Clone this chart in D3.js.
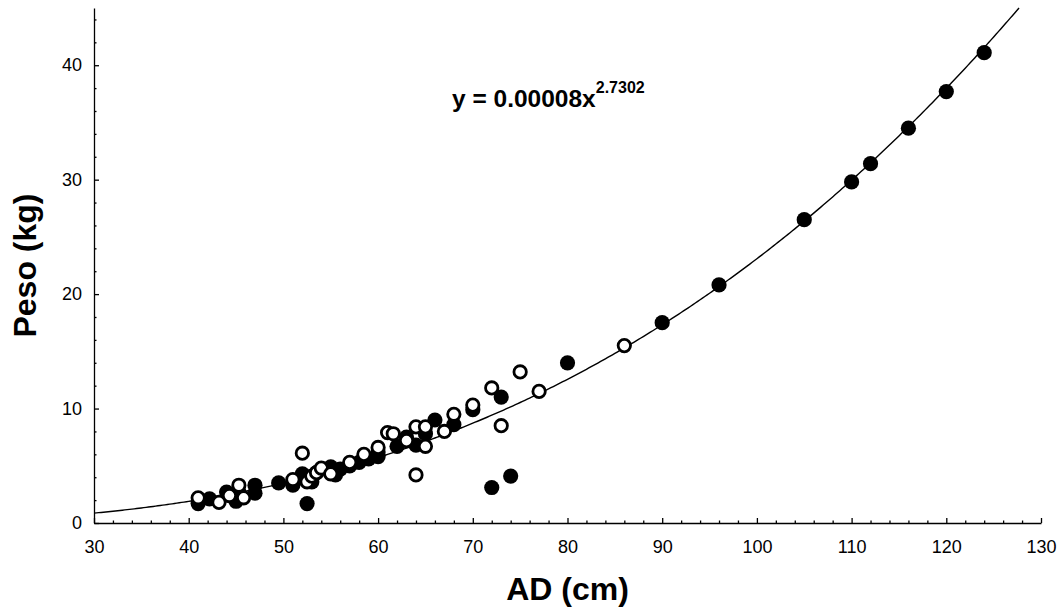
<!DOCTYPE html>
<html>
<head>
<meta charset="utf-8">
<script src="https://cdn.jsdelivr.net/npm/d3@7"></script>
<style>
  body { margin: 0; background: #fff; }
  svg { display: block; }
  .axis text { font-family: "Liberation Sans", Arial, sans-serif; font-size: 18px; fill: #000; }
  .axis path, .axis line { stroke: #000; stroke-width: 1.3; }
</style>
</head>
<body>
<div id="chart"></div>
<script>
// filled circles [AD, Peso]
var filledPts = [
  [41, 1.7], [42.2, 2.1], [44, 2.7], [45, 1.9], [45.3, 2.7], [47, 3.3], [47, 2.6],
  [49.5, 3.5], [51, 3.3], [52, 4.3], [52.5, 1.7], [53, 3.6], [53.5, 4.4], [55, 4.9],
  [55.5, 4.2], [56, 4.7], [57, 5.0], [58, 5.3], [59, 5.6], [60, 5.8], [60, 6.2],
  [62, 6.7], [63, 7.5], [64, 6.8], [65, 7.8], [66, 9.0], [68, 8.6], [70, 9.9],
  [72, 3.1], [73, 11.0], [74, 4.1], [80, 14.0], [90, 17.5], [96, 20.8], [105, 26.5],
  [110, 29.8], [112, 31.4], [116, 34.5], [120, 37.7], [124, 41.1]
];
// open circles [AD, Peso]
var openPts = [
  [41, 2.2], [43.2, 1.8], [44.3, 2.4], [45.3, 3.3], [45.8, 2.2], [51, 3.8], [52, 6.1],
  [52.5, 3.6], [53, 4.1], [53.5, 4.4], [54, 4.8], [55, 4.3], [57, 5.3], [58.5, 6.0],
  [60, 6.6], [61, 7.9], [61.6, 7.8], [63, 7.2], [64, 8.4], [64, 4.2], [65, 8.4],
  [65, 6.7], [67, 8.0], [68, 9.5], [70, 10.3], [72, 11.8], [73, 8.5], [75, 13.2],
  [77, 11.5], [86, 15.5]
];
var coefA = 0.00008, coefB = 2.7302;
var xTicks = [30, 40, 50, 60, 70, 80, 90, 100, 110, 120, 130];
var yTicks = [0, 10, 20, 30, 40];

var W = 1063, H = 611;
var margin = {top: 8, right: 22, bottom: 88, left: 94};
var width = W - margin.left - margin.right,
    height = H - margin.top - margin.bottom;

var svg = d3.select('#chart').append('svg')
    .attr('width', W).attr('height', H);
var g = svg.append('g').attr('transform', 'translate(' + margin.left + ',' + margin.top + ')');

var x = d3.scaleLinear().domain([30, 130]).range([0, width]);
var y = d3.scaleLinear().domain([0, 45]).range([height, 0]);

var xMinor = d3.range(30, 131, 2).filter(function(v) { return v % 10 !== 0; });
var yMinor = d3.range(0, 45, 2).filter(function(v) { return v % 10 !== 0; });

g.append('g').attr('class', 'axis')
    .attr('transform', 'translate(0,' + height + ')')
    .call(d3.axisBottom(x).tickValues(xTicks).tickSize(-5).tickSizeOuter(0).tickPadding(17));
g.append('g').attr('class', 'axis')
    .attr('transform', 'translate(0,' + height + ')')
    .call(d3.axisBottom(x).tickValues(xMinor).tickSize(-2.5).tickSizeOuter(0).tickFormat(''))
    .select('.domain').remove();

g.append('g').attr('class', 'axis')
    .call(d3.axisLeft(y).tickValues(yTicks).tickSize(-5).tickSizeOuter(0).tickPadding(12));
g.append('g').attr('class', 'axis')
    .call(d3.axisLeft(y).tickValues(yMinor).tickSize(-2.5).tickSizeOuter(0).tickFormat(''))
    .select('.domain').remove();

// fitted curve
var xMax = Math.pow(45 / coefA, 1 / coefB);
var curvePts = d3.range(30, xMax, 0.25).concat([xMax]).map(function(v) { return [v, coefA * Math.pow(v, coefB)]; });
g.append('path')
    .datum(curvePts)
    .attr('fill', 'none')
    .attr('stroke', '#000')
    .attr('stroke-width', 1.4)
    .attr('d', d3.line().x(function(d) { return x(d[0]); }).y(function(d) { return y(d[1]); }));

g.selectAll('.filled').data(filledPts).enter().append('circle')
    .attr('class', 'filled')
    .attr('cx', function(d) { return x(d[0]); })
    .attr('cy', function(d) { return y(d[1]); })
    .attr('r', 7.6)
    .attr('fill', '#000');

g.selectAll('.open').data(openPts).enter().append('circle')
    .attr('class', 'open')
    .attr('cx', function(d) { return x(d[0]); })
    .attr('cy', function(d) { return y(d[1]); })
    .attr('r', 6.2)
    .attr('fill', '#fff')
    .attr('stroke', '#000')
    .attr('stroke-width', 2.8);

// equation
var eq = svg.append('text')
    .attr('x', 452).attr('y', 107)
    .attr('font-family', '"Liberation Sans", Arial, sans-serif')
    .attr('font-weight', 'bold')
    .attr('font-size', 24.5);
eq.append('tspan').text('y = 0.00008x');
eq.append('tspan').attr('dy', -14).attr('font-size', 16).text(coefB.toFixed(4));

// axis titles
svg.append('text')
    .attr('x', margin.left + width / 2).attr('y', 600)
    .attr('text-anchor', 'middle')
    .attr('font-family', '"Liberation Sans", Arial, sans-serif')
    .attr('font-weight', 'bold')
    .attr('font-size', 32)
    .text('AD (cm)');

svg.append('text')
    .attr('transform', 'translate(36,' + (margin.top + height / 2) + ') rotate(-90)')
    .attr('text-anchor', 'middle')
    .attr('font-family', '"Liberation Sans", Arial, sans-serif')
    .attr('font-weight', 'bold')
    .attr('font-size', 32)
    .text('Peso (kg)');
</script>
</body>
</html>
